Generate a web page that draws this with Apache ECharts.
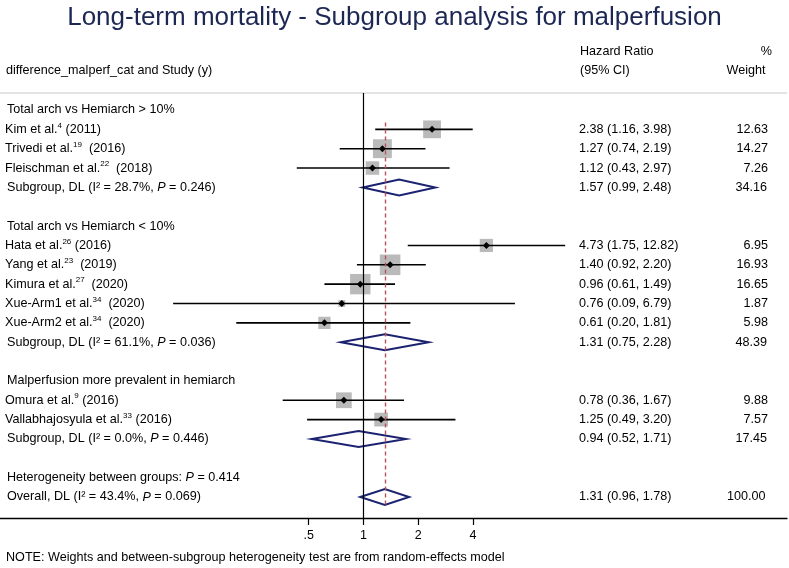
<!DOCTYPE html>
<html>
<head>
<meta charset="utf-8">
<script src="https://cdn.jsdelivr.net/npm/echarts@6/dist/echarts.min.js"></script>
<style>
  html, body { margin: 0; padding: 0; background: #fff; }
  #chart { width: 789px; height: 568px; }
</style>
</head>
<body>
<div id="chart"></div>
<script>
// ---- data ----
const groupTitles = ['Total arch vs Hemiarch > 10%', 'Total arch vs Hemiarch < 10%', 'Malperfusion more prevalent in hemiarch'];
const groupRows = [0, 6, 14];

const studyNames = ['Kim et al.', 'Trivedi et al.', 'Fleischman et al.', 'Hata et al.', 'Yang et al.',
  'Kimura et al.', 'Xue-Arm1 et al.', 'Xue-Arm2 et al.', 'Omura et al.', 'Vallabhajosyula et al.'];
const studyRefs = ['4', '19', '22', '26', '23', '27', '34', '34', '9', '33'];
const studyGaps = [' ', '  ', '  ', ' ', '  ', '  ', '  ', '  ', ' ', ' '];
const studyYears = [2011, 2016, 2018, 2016, 2019, 2020, 2020, 2020, 2016, 2016];
const studyHR = [2.38, 1.27, 1.12, 4.73, 1.40, 0.96, 0.76, 0.61, 0.78, 1.25];
const studyLo = [1.16, 0.74, 0.43, 1.75, 0.92, 0.61, 0.09, 0.20, 0.36, 0.49];
const studyHi = [3.98, 2.19, 2.97, 12.82, 2.20, 1.49, 6.79, 1.81, 1.67, 3.20];
const studyWeight = [12.63, 14.27, 7.26, 6.95, 16.93, 16.65, 1.87, 5.98, 9.88, 7.57];
const studyRows = [1, 2, 3, 7, 8, 9, 10, 11, 15, 16];

const pooledNames = ['Subgroup, DL', 'Subgroup, DL', 'Subgroup, DL', 'Overall, DL'];
const pooledI2 = ['28.7', '61.1', '0.0', '43.4'];
const pooledP = ['0.246', '0.036', '0.446', '0.069'];
const pooledHR = [1.57, 1.31, 0.94, 1.31];
const pooledLo = [0.99, 0.75, 0.52, 0.96];
const pooledHi = [2.48, 2.28, 1.71, 1.78];
const pooledWeight = [34.16, 48.39, 17.45, 100.00];
const pooledRows = [4, 12, 17, 20];

const hetP = '0.414';
const hetRow = 19;

const xTicks = [0.5, 1, 2, 4];

// ---- layout ----
const FONT = '"Liberation Sans", Arial, Helvetica, sans-serif';
const FS = 12.6;
const X_ONE = 363.5;          // pixel of HR = 1
const PX_PER_DOUBLING = 54.8;
const PLOT_RIGHT = 787;
const xMin = Math.pow(2, (0 - X_ONE) / PX_PER_DOUBLING);
const xMax = Math.pow(2, (PLOT_RIGHT - X_ONE) / PX_PER_DOUBLING);
const PLOT_TOP = 93, PLOT_BOTTOM = 518, ROW0_Y = 110, ROW_H = 19.35;
const yMin = -(ROW0_Y - PLOT_TOP) / ROW_H;
const yMax = 20 + (PLOT_BOTTOM - (ROW0_Y + 20 * ROW_H)) / ROW_H;

const fmt = v => v.toFixed(2);
const ciText = (h, l, u) => fmt(h) + ' (' + fmt(l) + ', ' + fmt(u) + ')';

const rich = {
  sup: { fontSize: 8, fontFamily: FONT, lineHeight: 8, padding: [0, 0, 8, 0], verticalAlign: 'middle', fill: '#000' },
  it: { fontSize: FS, fontFamily: FONT, fontStyle: 'italic', fill: '#000' }
};

// text cells
const textItems = [];
groupTitles.forEach((t, i) => textItems.push({ row: groupRows[i], x: 7, text: t }));
studyNames.forEach((n, i) => {
  textItems.push({ row: studyRows[i], x: 5, text: n + '{sup|' + studyRefs[i] + '}' + studyGaps[i] + '(' + studyYears[i] + ')' });
  textItems.push({ row: studyRows[i], x: 579, text: ciText(studyHR[i], studyLo[i], studyHi[i]) });
  textItems.push({ row: studyRows[i], x: 768, align: 'right', text: fmt(studyWeight[i]) });
});
pooledNames.forEach((n, i) => {
  textItems.push({ row: pooledRows[i], x: 7, text: n + ' (I² = ' + pooledI2[i] + '%, {it|P} = ' + pooledP[i] + ')' });
  textItems.push({ row: pooledRows[i], x: 579, text: ciText(pooledHR[i], pooledLo[i], pooledHi[i]) });
  textItems.push({ row: pooledRows[i], x: i === 3 ? 765.5 : 767, align: 'right', text: fmt(pooledWeight[i]) });
});
textItems.push({ row: hetRow, x: 7, text: 'Heterogeneity between groups: {it|P} = ' + hetP });

const chart = echarts.init(document.getElementById('chart'));

const option = {
  animation: false,
  backgroundColor: '#fff',
  title: {
    text: 'Long-term mortality - Subgroup analysis for malperfusion',
    left: 'center',
    top: 0,
    textStyle: { fontFamily: FONT, fontSize: 26, fontWeight: 'normal', color: '#1c2754' }
  },
  grid: [
    { left: 0, right: 789 - PLOT_RIGHT, top: PLOT_TOP, bottom: 568 - PLOT_BOTTOM },
    { left: X_ONE - PX_PER_DOUBLING, width: 3 * PX_PER_DOUBLING, top: PLOT_TOP, bottom: 568 - PLOT_BOTTOM }
  ],
  xAxis: [
    {
      gridIndex: 0, type: 'log', logBase: 2, min: xMin, max: xMax,
      axisLine: { show: true, onZero: false, lineStyle: { color: '#000', width: 1.3 } },
      axisTick: { show: false }, axisLabel: { show: false }, splitLine: { show: false }
    },
    {
      gridIndex: 1, type: 'log', logBase: 2, min: xTicks[0], max: xTicks[xTicks.length - 1],
      axisLine: { show: false, onZero: false },
      axisTick: { show: true, length: 7, lineStyle: { color: '#000', width: 1.2 } },
      axisLabel: {
        margin: 11, color: '#000', fontFamily: FONT, fontSize: 12.5,
        formatter: v => (Math.abs(v - 0.5) < 1e-6 ? '.5' : String(Math.round(v)))
      },
      splitLine: { show: false }
    }
  ],
  yAxis: [
    { gridIndex: 0, type: 'value', inverse: true, min: yMin, max: yMax, show: false },
    { gridIndex: 1, type: 'value', show: false }
  ],
  graphic: [
    { type: 'line', shape: { x1: 0, y1: PLOT_TOP, x2: PLOT_RIGHT, y2: PLOT_TOP }, style: { stroke: '#c8c8c8', lineWidth: 1.2 } },
    { type: 'text', x: 6, y: 71, style: { text: 'difference_malperf_cat and Study (y)', font: FS + 'px ' + FONT, fill: '#000', verticalAlign: 'middle' } },
    { type: 'text', x: 580, y: 52, style: { text: 'Hazard Ratio', font: FS + 'px ' + FONT, fill: '#000', verticalAlign: 'middle' } },
    { type: 'text', x: 580, y: 71, style: { text: '(95% CI)', font: FS + 'px ' + FONT, fill: '#000', verticalAlign: 'middle' } },
    { type: 'text', x: 772, y: 52, style: { text: '%', font: FS + 'px ' + FONT, fill: '#000', align: 'right', verticalAlign: 'middle' } },
    { type: 'text', x: 765.5, y: 71, style: { text: 'Weight', font: FS + 'px ' + FONT, fill: '#000', align: 'right', verticalAlign: 'middle' } },
    { type: 'text', x: 6, y: 558, style: { text: 'NOTE: Weights and between-subgroup heterogeneity test are from random-effects model', font: '12.6px ' + FONT, fill: '#000', verticalAlign: 'middle' } }
  ],
  series: [
    {
      // study estimates: weighted square, CI line, point
      type: 'custom', name: 'studies', xAxisIndex: 0, yAxisIndex: 0, clip: false,
      data: studyNames.map((_, i) => [studyHR[i], studyRows[i], studyLo[i], studyHi[i], studyWeight[i]]),
      renderItem: (params, api) => {
        const row = api.value(1);
        const c = api.coord([api.value(0), row]);
        const l = api.coord([api.value(2), row]);
        const h = api.coord([api.value(3), row]);
        const s = 5 * Math.sqrt(api.value(4));
        const d = 3.5;
        return {
          type: 'group',
          children: [
            { type: 'rect', shape: { x: c[0] - s / 2, y: c[1] - s / 2, width: s, height: s }, style: { fill: '#bababa' } },
            { type: 'line', shape: { x1: l[0], y1: c[1], x2: h[0], y2: c[1] }, style: { stroke: '#000', lineWidth: 1.6 } },
            { type: 'polygon', shape: { points: [[c[0] - d, c[1]], [c[0], c[1] - d], [c[0] + d, c[1]], [c[0], c[1] + d]] }, style: { fill: '#000' } }
          ]
        };
      }
    },
    {
      // pooled estimates: diamonds
      type: 'custom', name: 'pooled', xAxisIndex: 0, yAxisIndex: 0, clip: false,
      data: pooledNames.map((_, i) => [pooledHR[i], pooledRows[i], pooledLo[i], pooledHi[i]]),
      renderItem: (params, api) => {
        const row = api.value(1);
        const c = api.coord([api.value(0), row]);
        const l = api.coord([api.value(2), row]);
        const h = api.coord([api.value(3), row]);
        const hh = 8;
        return {
          type: 'polygon',
          shape: { points: [[l[0], c[1]], [c[0], c[1] - hh], [h[0], c[1]], [c[0], c[1] + hh]] },
          style: { fill: 'none', stroke: '#1b2270', lineWidth: 2 }
        };
      },
      markLine: {
        silent: true, symbol: 'none', label: { show: false },
        data: [
          { xAxis: 1, lineStyle: { color: '#000', type: 'solid', width: 1.2 } },
          [
            { coord: [pooledHR[3], 0.65], lineStyle: { color: '#b5545c', type: [4, 3], width: 1.4 } },
            { coord: [pooledHR[3], 20.45] }
          ]
        ]
      }
    },
    {
      // text cells
      type: 'custom', name: 'text', xAxisIndex: 0, yAxisIndex: 0, clip: false, silent: true,
      data: textItems.map((t, i) => [1, t.row, i]),
      renderItem: (params, api) => {
        const it = textItems[api.value(2)];
        const y = api.coord([1, api.value(1)])[1];
        return {
          type: 'text', x: it.x, y: y,
          style: {
            text: it.text, fill: '#000', fontSize: FS, fontFamily: FONT,
            align: it.align || 'left', verticalAlign: 'middle', rich: rich
          }
        };
      }
    }
  ]
};

chart.setOption(option);
window.addEventListener('resize', () => chart.resize());
</script>
</body>
</html>
